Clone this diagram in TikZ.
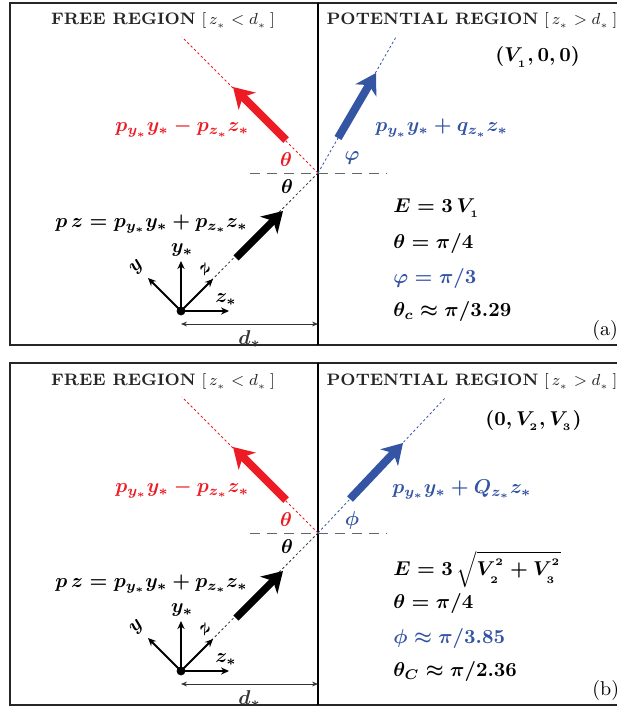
\documentclass[tikz,border=0pt]{standalone}
\usepackage{amsmath}
\usetikzlibrary{arrows.meta}
\usetikzlibrary{positioning}
\definecolor{rayred}{RGB}{237,28,36}
\definecolor{rayblue}{RGB}{52,84,164}
\tikzset{
    framen/.style = {line width=1.1pt, draw=black!85},
    divn/.style = {line width=0.7pt, draw=black},
    arrown/.style = {line width=3.6pt, black, -{Stealth[length=10pt,width=12pt,inset=3pt]}},
    arrowr/.style = {line width=4pt, rayred, -{Stealth[length=10pt,width=12pt,inset=3pt]}},
    arrowb/.style = {line width=4pt, rayblue, -{Stealth[length=10pt,width=12pt,inset=3pt]}},
    dotn/.style = {line width=0.4pt, black!80, dash pattern=on 1.2pt off 1.2pt},
    dotr/.style = {line width=0.4pt, rayred, dash pattern=on 1.2pt off 1.2pt},
    dotb/.style = {line width=0.4pt, rayblue, dash pattern=on 1.2pt off 1.2pt},
    horn/.style = {line width=0.5pt, black!60, dash pattern=on 5pt off 3.5pt},
    axisn/.style = {line width=0.9pt, black, -{Stealth[length=4pt,width=3.6pt]}},
    dimn/.style = {line width=0.4pt, black!80, {Stealth[length=3pt,width=2.4pt]}-{Stealth[length=3pt,width=2.4pt]}},
    origin/.style = {circle, fill=black, inner sep=0pt, minimum size=4.4pt},
    ttl/.style = {anchor=base, inner sep=0pt, text=black!85, font=\fontsize{8.3}{10}\selectfont},
    lbl/.style = {inner sep=0pt, font=\boldmath},
    eqn/.style = {anchor=base west, inner sep=0pt, font=\boldmath}
}

\begin{document}
\begin{tikzpicture}[x=0.5pt,y=-0.5pt]
\path[use as bounding box,fill=white] (0,0) rectangle (616,706);

% panel (a)
\begin{scope}
\draw[framen] (10,3) rectangle (624,345);
\draw[divn] (318,3) -- (318,345);
\node[ttl] (ttlfa) at (163,25) {\textbf{FREE REGION} $[\,z_{_*}<d_{_*}\,]$};
\node[ttl] (ttlpa) at (472,25) {\textbf{POTENTIAL REGION} $[\,z_{_*}>d_{_*}\,]$};
%
\coordinate (Oa) at (318,173);
\coordinate (hla) at (250,173);
\coordinate (hra) at (387,173);
\node[origin] (orga) at (181,311) {};
\coordinate (rtopa) at (182,37);
\coordinate (btopa) at (396,37);
%
\draw[horn] (hla) -- (hra);
\draw[dotn] (orga) -- (Oa);
\draw[dotr] (Oa) -- (rtopa);
\draw[dotb] (Oa) -- (btopa);
%
\coordinate (kta) at (236,258);
\coordinate (kha) at (283,211);
\coordinate (rta) at (286,140);
\coordinate (rha) at (233,87);
\coordinate (bta) at (338,138);
\coordinate (bha) at (376,73);
\draw[arrown] (kta) -- (kha);
\draw[arrowr] (rta) -- (rha);
\draw[arrowb] (bta) -- (bha);
%
\coordinate (ya) at (148,278);
\coordinate (za) at (213,279);
\coordinate (ysa) at (181,261);
\coordinate (zsa) at (229,311);
\draw[axisn] (orga.center) -- (ya);
\draw[axisn] (orga.center) -- (za);
\draw[axisn] (orga.center) -- (ysa);
\draw[axisn] (orga.center) -- (zsa);
\node[lbl, rotate=45] (lya) at (137,267) {$y$};
\node[lbl, rotate=45] (lza) at (205,269) {$z$};
\node[lbl] (lysa) at (182,250) {$y_*$};
\node[lbl] (lzsa) at (226,300) {$z_*$};
%
\coordinate (d1a) at (181,324);
\coordinate (d2a) at (318,324);
\draw[dimn] (d1a) -- (d2a) node[lbl, midway, below=3pt] (dsa) {$d_*$};
%
\node[lbl, text=rayred] (tra) at (286,160) {$\theta$};
\node[lbl] (tka) at (287,187) {$\theta$};
\node[lbl, text=rayblue] (pha) at (352,158) {$\varphi$};
\node[lbl, anchor=base west, text=rayred] (mra) at (115,132) {$p_{y_*}y_*-p_{z_*}z_*$};
\node[lbl, anchor=base west] (mka) at (55,227) {$p\,z=p_{y_*}y_*+p_{z_*}z_*$};
\node[lbl, anchor=base west, text=rayblue] (mba) at (375,132) {$p_{y_*}y_*+q_{z_*}z_*$};
\node[lbl, anchor=base west] (va) at (495,62) {$(V_{_1},0,0)$};
%
\node[eqn] (e1a) at (393,212) {$E=3\,V_{_1}$};
\node[eqn] (e2a) at (393,248) {$\theta=\pi/4$};
\node[eqn, text=rayblue] (e3a) at (393,283) {$\varphi=\pi/3$};
\node[eqn] (e4a) at (393,316) {$\theta_c\approx\pi/3.29$};
\node[anchor=base west, inner sep=0pt] (taga) at (592,335) {(a)};
\end{scope}

% panel (b)
\begin{scope}[shift={(0,360)}]
\draw[framen] (10,3) rectangle (624,345);
\draw[divn] (318,3) -- (318,345);
\node[ttl] (ttlfb) at (163,25) {\textbf{FREE REGION} $[\,z_{_*}<d_{_*}\,]$};
\node[ttl] (ttlpb) at (472,25) {\textbf{POTENTIAL REGION} $[\,z_{_*}>d_{_*}\,]$};
%
\coordinate (Ob) at (318,173);
\coordinate (hlb) at (250,173);
\coordinate (hrb) at (387,173);
\node[origin] (orgb) at (181,311) {};
\coordinate (rtopb) at (182,37);
\coordinate (btopb) at (446,37);
%
\draw[horn] (hlb) -- (hrb);
\draw[dotn] (orgb) -- (Ob);
\draw[dotr] (Ob) -- (rtopb);
\draw[dotb] (Ob) -- (btopb);
%
\coordinate (ktb) at (236,258);
\coordinate (khb) at (283,211);
\coordinate (rtb) at (286,140);
\coordinate (rhb) at (233,87);
\coordinate (btb) at (350,139);
\coordinate (bhb) at (403,83);
\draw[arrown] (ktb) -- (khb);
\draw[arrowr] (rtb) -- (rhb);
\draw[arrowb] (btb) -- (bhb);
%
\coordinate (yb) at (148,278);
\coordinate (zb) at (213,279);
\coordinate (ysb) at (181,261);
\coordinate (zsb) at (229,311);
\draw[axisn] (orgb.center) -- (yb);
\draw[axisn] (orgb.center) -- (zb);
\draw[axisn] (orgb.center) -- (ysb);
\draw[axisn] (orgb.center) -- (zsb);
\node[lbl, rotate=45] (lyb) at (137,267) {$y$};
\node[lbl, rotate=45] (lzb) at (205,269) {$z$};
\node[lbl] (lysb) at (182,250) {$y_*$};
\node[lbl] (lzsb) at (226,300) {$z_*$};
%
\coordinate (d1b) at (181,324);
\coordinate (d2b) at (318,324);
\draw[dimn] (d1b) -- (d2b) node[lbl, midway, below=3pt] (dsb) {$d_*$};
%
\node[lbl, text=rayred] (trb) at (286,160) {$\theta$};
\node[lbl] (tkb) at (287,187) {$\theta$};
\node[lbl, text=rayblue] (phb) at (352,160) {$\phi$};
\node[lbl, anchor=base west, text=rayred] (mrb) at (115,132) {$p_{y_*}y_*-p_{z_*}z_*$};
\node[lbl, anchor=base west] (mkb) at (55,227) {$p\,z=p_{y_*}y_*+p_{z_*}z_*$};
\node[lbl, anchor=base west, text=rayblue] (mbb) at (392,133) {$p_{y_*}y_*+Q_{z_*}z_*$};
\node[lbl, anchor=base west] (vb) at (485,65) {$(0,V_{_2},V_{_3})$};
%
\node[eqn] (e1b) at (393,215) {$E=3\,\sqrt{V_{_2}^{^2}+V_{_3}^{^2}}$};
\node[eqn] (e2b) at (393,248) {$\theta=\pi/4$};
\node[eqn, text=rayblue] (e3b) at (393,283) {$\phi\approx\pi/3.85$};
\node[eqn] (e4b) at (393,316) {$\theta_C\approx\pi/2.36$};
\node[anchor=base west, inner sep=0pt] (tagb) at (592,335) {(b)};
\end{scope}

\end{tikzpicture}
\end{document}
